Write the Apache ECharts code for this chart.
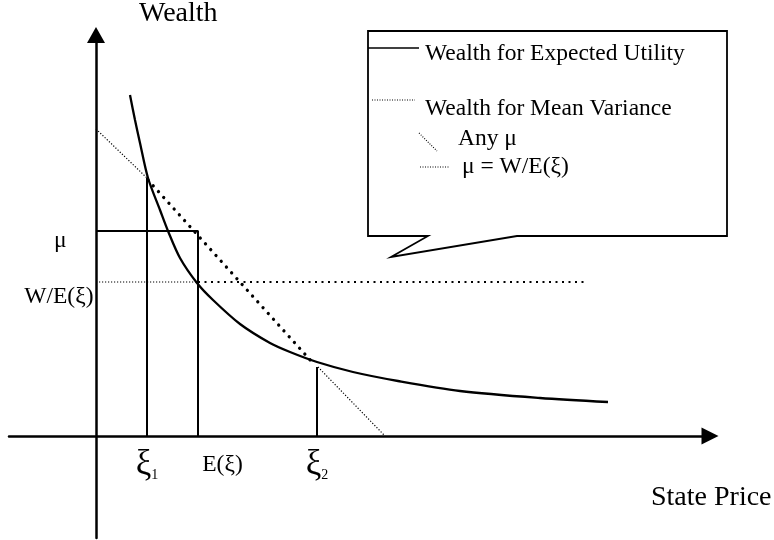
<!DOCTYPE html>
<html>
<head>
<meta charset="utf-8">
<title>Wealth and State Price</title>
<script src="https://cdn.jsdelivr.net/npm/echarts@6/dist/echarts.min.js"></script>
<style>
  html, body { margin: 0; padding: 0; background: #fff; }
  #chart { width: 774px; height: 540px; }
</style>
</head>
<body>
<div id="chart"></div>
<script>
// x = state price, y = wealth (arbitrary units)
const xi1 = 0.51
const meanXi = 1.02
const xi2 = 2.21
const mu = 2.05
const wOverE = 1.54

const xTickValues = [xi1, meanXi, xi2]
const xTickLabels = ['ξ1', 'E(ξ)', 'ξ2']
const yTickValues = [mu, wOverE]
const yTickLabels = ['μ', 'W/E(ξ)']

// wealth for expected utility
const curveX = [0.34, 0.39, 0.44, 0.52, 0.64, 0.72, 0.84, 1.01, 1.17, 1.44, 1.74, 1.94, 2.21, 2.57, 3.02, 3.64, 4.44, 5.12]
const curveY = [3.41, 3.16, 2.93, 2.58, 2.26, 2.05, 1.78, 1.53, 1.36, 1.12, 0.93, 0.84, 0.74, 0.64, 0.55, 0.45, 0.38, 0.34]

// wealth for mean variance, any mu (three pieces)
const anyMuLeft = [[0, 3.07], [0.51, 2.58]]
const anyMuMid = [[0.52, 2.56], [2.16, 0.74]]
const anyMuRight = [[2.22, 0.69], [2.89, 0]]

// mu = W/E(xi) level
const levelEnd = 4.89

const serif = '"Liberation Serif", "DejaVu Serif", serif'

const chart = echarts.init(document.getElementById('chart'))

function seg(name, data, lineStyle, extra) {
  return Object.assign({
    name: name,
    type: 'line',
    data: data,
    symbol: 'none',
    clip: false,
    silent: true,
    lineStyle: lineStyle
  }, extra || {})
}

const solid = { color: '#000', width: 2 }
const thinDot = { color: '#000', width: 1.2, type: [1.2, 1.8] }
const bigDot = { color: '#000', width: 3.3, type: [0.01, 7.8], cap: 'round' }
const midDot = { color: '#000', width: 2, type: [2, 4.5] }

// rich markup for the tick texts
function richText(s) {
  if (/^ξ\d$/.test(s)) return '{g|ξ}{s|' + s.slice(1) + '}'
  if (s === 'E(ξ)') return '{e|' + s + '}'
  if (s === 'μ') return '{m|' + s + '}'
  return '{w|' + s + '}'
}

function tickSeries(points, labels, position, distance, rich) {
  return {
    type: 'scatter',
    data: points,
    symbolSize: 1,
    itemStyle: { color: 'rgba(0,0,0,0)', opacity: 1 },
    clip: false,
    silent: true,
    label: {
      show: true,
      position: position,
      distance: distance,
      color: '#000',
      opacity: 1,
      formatter: p => richText(labels[p.dataIndex]),
      rich: rich
    }
  }
}

const axisText = { fontFamily: serif, fontSize: 28, color: '#000' }

chart.setOption({
  animation: false,
  grid: { left: 9, top: 35, right: 64, bottom: 2, containLabel: false, outerBoundsMode: 'none' },
  xAxis: {
    type: 'value',
    min: -0.87,
    max: 6.14,
    name: 'State Price',
    nameLocation: 'end',
    nameGap: -59,
    nameTextStyle: Object.assign({ align: 'left', verticalAlign: 'top', padding: [48, 0, 0, 0] }, axisText),
    axisLine: {
      onZero: true,
      symbol: ['none', 'triangle'],
      symbolSize: [17, 17],
      lineStyle: { color: '#000', width: 2.5 }
    },
    axisTick: { show: false },
    splitLine: { show: false },
    axisLabel: { show: false }
  },
  yAxis: {
    type: 'value',
    min: -1.02,
    max: 4.01,
    name: 'Wealth',
    nameLocation: 'end',
    nameGap: 7,
    nameTextStyle: Object.assign({ align: 'left', verticalAlign: 'bottom', padding: [0, 0, 0, 43] }, axisText),
    axisLine: {
      onZero: true,
      symbol: ['none', 'triangle'],
      symbolSize: [18, 16],
      lineStyle: { color: '#000', width: 2.5 }
    },
    axisTick: { show: false },
    splitLine: { show: false },
    axisLabel: { show: false }
  },
  series: [
    seg('Wealth for Expected Utility', curveX.map((x, i) => [x, curveY[i]]), { color: '#000', width: 2.3 }, { smooth: 0.3 }),
    seg('Any mu left', anyMuLeft, thinDot),
    seg('Any mu', anyMuMid, bigDot),
    seg('Any mu right', anyMuRight, thinDot),
    seg('mu = W/E left', [[0, wOverE], [meanXi, wOverE]], thinDot),
    seg('mu = W/E', [[meanXi, wOverE], [levelEnd, wOverE]], midDot),
    seg('xi1', [[xi1, 0], [xi1, curveY[3]]], solid),
    seg('mu box', [[0, mu], [meanXi, mu], [meanXi, 0]], solid),
    seg('xi2', [[xi2, 0], [xi2, anyMuRight[0][1]]], solid),
    tickSeries(xTickValues.map(v => [v, 0]), xTickLabels, 'bottom', 10, {
      g: { fontFamily: serif, fontSize: 35, lineHeight: 36, color: '#000' },
      s: { fontFamily: serif, fontSize: 14, lineHeight: 14, verticalAlign: 'bottom', color: '#000' },
      e: { fontFamily: serif, fontSize: 23.5, lineHeight: 24, padding: [12, 0, 0, 49], color: '#000' }
    }),
    tickSeries(yTickValues.map(v => [0, v]), yTickLabels, 'left', 2, {
      m: { fontFamily: serif, fontSize: 23.5, lineHeight: 24, padding: [19, 27, 0, 0], color: '#000' },
      w: { fontFamily: serif, fontSize: 23.5, lineHeight: 24, padding: [30, 0, 0, 0], color: '#000' }
    })
  ],
  graphic: [{
    type: 'group',
    silent: true,
    children: [
      {
        type: 'polygon',
        shape: { points: [[368, 31], [727, 31], [727, 236], [517, 236], [391, 257], [428, 236], [368, 236]] },
        style: { fill: '#fff', stroke: '#000', lineWidth: 1.8 }
      },
      { type: 'line', shape: { x1: 368, y1: 48, x2: 419, y2: 48 }, style: { stroke: '#000', lineWidth: 1.6 } },
      { type: 'text', style: { text: 'Wealth for Expected Utility', x: 425, y: 54, font: '23.5px ' + serif, fill: '#000', verticalAlign: 'middle' } },
      { type: 'line', shape: { x1: 372, y1: 100, x2: 415, y2: 100 }, style: { stroke: '#000', lineWidth: 1.1, lineDash: [1, 1.5] } },
      { type: 'text', style: { text: 'Wealth for Mean Variance', x: 425, y: 109, font: '23.5px ' + serif, fill: '#000', verticalAlign: 'middle' } },
      { type: 'line', shape: { x1: 419, y1: 133, x2: 437, y2: 151 }, style: { stroke: '#000', lineWidth: 1.1, lineDash: [1, 1.5] } },
      { type: 'text', style: { text: 'Any μ', x: 458, y: 139, font: '23.5px ' + serif, fill: '#000', verticalAlign: 'middle' } },
      { type: 'line', shape: { x1: 420, y1: 167, x2: 449, y2: 167 }, style: { stroke: '#000', lineWidth: 1.1, lineDash: [1, 1.5] } },
      { type: 'text', style: { text: 'μ = W/E(ξ)', x: 462, y: 167, font: '23.5px ' + serif, fill: '#000', verticalAlign: 'middle' } }
    ]
  }]
})
</script>
</body>
</html>
